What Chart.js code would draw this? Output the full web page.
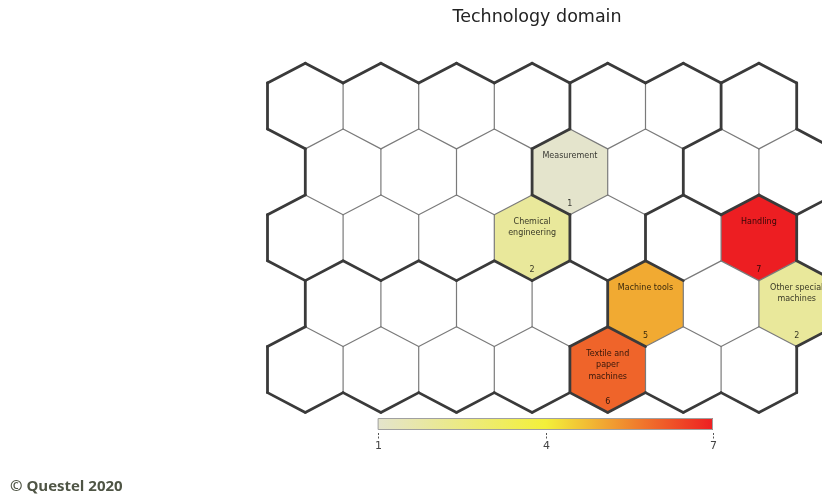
<!DOCTYPE html>
<html><head><meta charset="utf-8">
<script src="https://cdn.jsdelivr.net/npm/chart.js@4.4.0/dist/chart.umd.min.js"></script>
<style>html,body{margin:0;padding:0;background:#fff;}canvas{display:block;}</style>
</head><body>
<canvas id="c" width="822" height="495"></canvas>
<script>
// ---- data ----
const chartTitle = 'Technology domain';
const gridRows = 5;
const gridCols = 7;
const cellRows = [1, 2, 2, 3, 3, 4];
const cellCols = [3, 3, 6, 4, 6, 4];
const cellLabels = [['Measurement'], ['Chemical', 'engineering'], ['Handling'], ['Machine tools'], ['Other special', 'machines'], ['Textile and', 'paper', 'machines']];
const cellValues = [1, 2, 7, 5, 2, 6];
const scaleMin = 1;
const scaleMax = 7;
const scaleTicks = [1, 4, 7];
// cluster boundaries between neighbouring cells [row1, col1, row2, col2]
const thickBorders = [
  [0,3,0,4],[0,5,0,6],[0,3,1,3],[0,5,1,5],
  [1,2,1,3],[1,4,1,5],
  [1,3,2,3],[1,4,2,5],[1,5,2,5],[1,5,2,6],[1,6,2,6],
  [2,3,2,4],[2,4,2,5],
  [2,0,3,0],[2,1,3,0],[2,1,3,1],[2,2,3,1],[2,2,3,2],[2,3,3,2],[2,3,3,3],[2,4,3,3],[2,4,3,4],[2,5,3,4],
  [3,3,3,4],
  [3,3,4,4],[3,4,4,4],
  [4,3,4,4]
];
const copyrightText = '\u00a9 Questel 2020';

// ---- colour scale ----
const anchors = [[1,[228,228,204]],[4,[243,240,58]],[7,[237,30,34]]];
function colorFor(v){
  for (let i=0;i<anchors.length-1;i++){
    const [a,ca]=anchors[i],[b,cb]=anchors[i+1];
    if (v<=b || i===anchors.length-2){
      const t=Math.max(0,Math.min(1,(v-a)/(b-a)));
      const c=ca.map((x,j)=>Math.round(x+(cb[j]-x)*t));
      return 'rgb('+c.join(',')+')';
    }
  }
}

// ---- build points ----
const points = [];
for (let r=0;r<gridRows;r++){
  for (let c=0;c<gridCols;c++){
    let idx=-1;
    for (let i=0;i<cellRows.length;i++) if (cellRows[i]===r && cellCols[i]===c) idx=i;
    points.push({x: c + (r%2)*0.5, y: r, r: r, c: c,
      v: idx>=0 ? cellValues[idx] : null, label: idx>=0 ? cellLabels[idx] : null});
  }
}

const corners = [[0,-0.65],[0.5,-0.35],[0.5,0.35],[0,0.65],[-0.5,0.35],[-0.5,-0.35]];

const hexPlugin = {
  id: 'hexmap',
  afterDatasetsDraw(chart){
    const ctx = chart.ctx, xs = chart.scales.x, ys = chart.scales.y;
    const pts = chart.data.datasets[0].data;
    const vert = p => corners.map(([dx,dy]) => [xs.getPixelForValue(p.x+dx), ys.getPixelForValue(p.y+dy)]);
    const exists = (r,c) => r>=0 && r<gridRows && c>=0 && c<gridCols;
    const isThick = (r1,c1,r2,c2) => thickBorders.some(b =>
      (b[0]===r1&&b[1]===c1&&b[2]===r2&&b[3]===c2)||(b[0]===r2&&b[1]===c2&&b[2]===r1&&b[3]===c1));
    ctx.save();
    // fills
    pts.forEach(p => {
      const v = vert(p);
      ctx.beginPath();
      v.forEach(([a,b],i) => i ? ctx.lineTo(a,b) : ctx.moveTo(a,b));
      ctx.closePath();
      ctx.fillStyle = p.v==null ? '#ffffff' : colorFor(p.v);
      ctx.fill();
    });
    // edges
    const thin=[], thick=[];
    pts.forEach(p => {
      const v = vert(p), o = p.r%2;
      const nb = [[p.r-1,p.c+o],[p.r,p.c+1],[p.r+1,p.c+o],[p.r+1,p.c-1+o],[p.r,p.c-1],[p.r-1,p.c-1+o]];
      nb.forEach(([nr,nc],k) => {
        const seg=[v[k], v[(k+1)%6]];
        if (!exists(nr,nc)) thick.push(seg);
        else if (nr*gridCols+nc > p.r*gridCols+p.c) (isThick(p.r,p.c,nr,nc)?thick:thin).push(seg);
      });
    });
    ctx.lineCap='round'; ctx.lineJoin='round';
    ctx.strokeStyle='#7a7a7a'; ctx.lineWidth=1.2;
    thin.forEach(s => { ctx.beginPath(); ctx.moveTo(s[0][0],s[0][1]); ctx.lineTo(s[1][0],s[1][1]); ctx.stroke(); });
    ctx.strokeStyle='#3a3a3a'; ctx.lineWidth=2.8;
    thick.forEach(s => { ctx.beginPath(); ctx.moveTo(s[0][0],s[0][1]); ctx.lineTo(s[1][0],s[1][1]); ctx.stroke(); });
    // labels
    ctx.textAlign='center'; ctx.textBaseline='middle';
    ctx.fillStyle='rgba(0,0,0,0.78)';
    pts.forEach(p => {
      if (!p.label) return;
      const cx = xs.getPixelForValue(p.x), cy = ys.getPixelForValue(p.y);
      ctx.font = '8px "DejaVu Sans", Verdana, sans-serif';
      p.label.forEach((t,i) => ctx.fillText(t, cx, cy - 16 + i*11.5));
      ctx.fillText(String(p.v), cx, cy + 32);
    });
    // colour bar
    const bl=378, br=713, bt=418, bh=12;
    const pix = v => bl + (v-scaleMin)/(scaleMax-scaleMin)*(br-bl);
    const g = ctx.createLinearGradient(bl,0,br,0);
    for (let v=scaleMin; v<=scaleMax+1e-9; v+=0.25) g.addColorStop((v-scaleMin)/(scaleMax-scaleMin), colorFor(v));
    ctx.fillStyle=g; ctx.fillRect(bl,bt,br-bl,bh);
    ctx.strokeStyle='#a0a0a0'; ctx.lineWidth=1; ctx.strokeRect(bl+0.5,bt+0.5,br-bl-1,bh-1);
    ctx.strokeStyle='#555'; ctx.lineWidth=1; ctx.setLineDash([2,1.5]); ctx.lineCap='butt';
    ctx.fillStyle='#444'; ctx.font='11px "DejaVu Sans", Verdana, sans-serif';
    scaleTicks.forEach(t => {
      const px = Math.round(pix(t))+0.5;
      ctx.beginPath(); ctx.moveTo(px, bt+bh+3); ctx.lineTo(px, bt+bh+9); ctx.stroke();
      ctx.fillText(String(t), px, bt+bh+16);
    });
    ctx.setLineDash([]);
    // copyright
    ctx.textAlign='left'; ctx.fillStyle='#4f5545';
    ctx.font='bold 15px "Open Sans", sans-serif';
    ctx.fillText(copyrightText, 10, 487);
    ctx.restore();
  }
};

new Chart(document.getElementById('c'), {
  type: 'scatter',
  data: { datasets: [{ data: points, pointRadius: 0, pointHoverRadius: 0 }] },
  options: {
    responsive: false,
    animation: false,
    devicePixelRatio: 1,
    layout: { padding: { left: 267.5, right: 15.5, top: 0, bottom: 82.6 } },
    scales: {
      x: { type: 'linear', min: -0.5, max: -0.5 + (806.5-267.5)/75.6, display: false },
      y: { type: 'linear', min: -0.65, max: 4.65, reverse: true, display: false }
    },
    plugins: {
      legend: { display: false },
      tooltip: { enabled: false },
      title: { display: true, text: chartTitle, color: '#222',
        font: { family: '"DejaVu Sans", Verdana, sans-serif', size: 17.5, weight: 'normal' },
        padding: { top: 7, bottom: 35.2 } }
    }
  },
  plugins: [hexPlugin]
});
</script>
</body></html>
